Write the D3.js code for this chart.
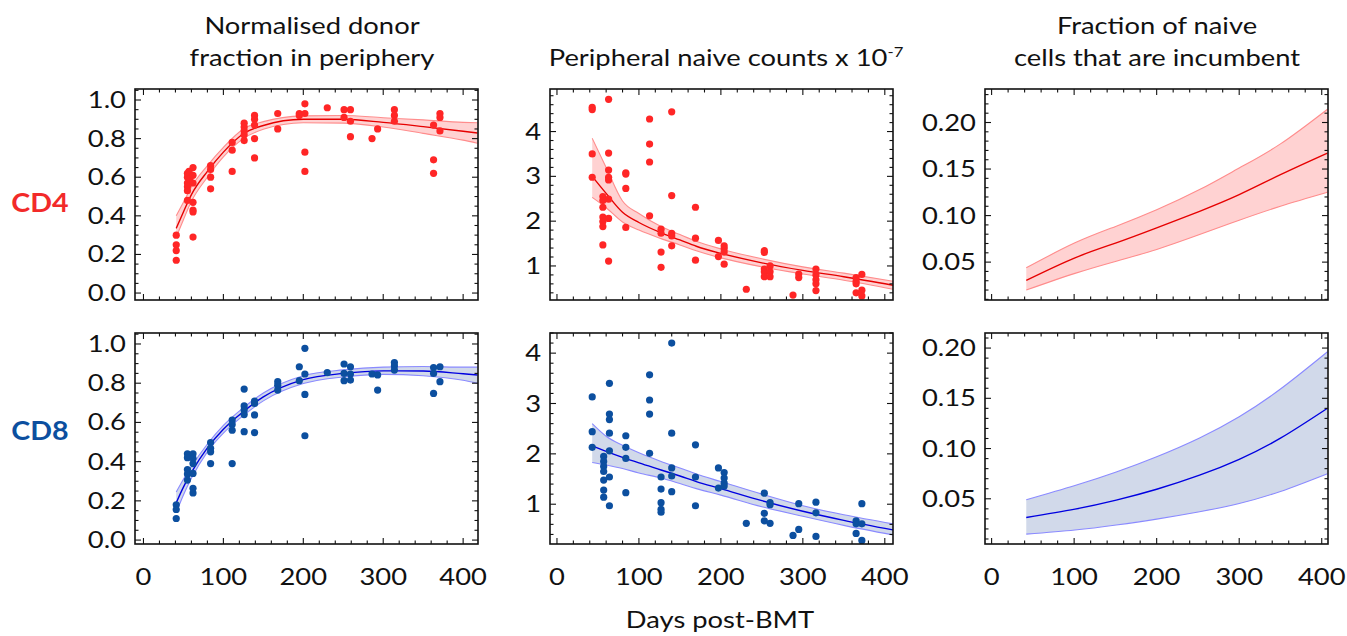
<!DOCTYPE html>
<html lang="en">
<head>
<script src="https://d3js.org/d3.v7.min.js"></script>
<style>
body { margin: 0; background: #fff; }
text { font-family: Lato, "Open Sans", sans-serif; fill: #111; }
</style>
</head>
<body>
<svg width="1347" height="636"></svg>
<script>
// ---- data ----
// scatter points: [day, value]
var cd4Donor = [
 [41,0.30],[41,0.25],[41,0.22],[41,0.17],
 [55,0.62],[55,0.60],[55,0.57],[55,0.55],[55,0.53],[55,0.48],[57,0.63],[58,0.59],
 [62,0.65],[62,0.61],[62,0.57],[62,0.47],[62,0.43],[62,0.42],[62,0.29],
 [84,0.66],[84,0.64],[84,0.60],[84,0.54],
 [111,0.78],[111,0.74],[111,0.63],
 [126,0.88],[126,0.86],[126,0.84],[126,0.82],[126,0.79],
 [139,0.92],[139,0.90],[139,0.87],[139,0.80],[139,0.70],
 [168,0.93],[168,0.85],
 [195,0.93],[195,0.92],
 [202,0.98],[202,0.93],[202,0.73],[202,0.63],
 [230,0.96],
 [251,0.95],[251,0.91],
 [259,0.95],[259,0.89],[259,0.81],
 [286,0.80],[293,0.85],
 [314,0.95],[314,0.92],[314,0.89],
 [363,0.87],[363,0.69],[363,0.62],
 [371,0.93],[371,0.91],[371,0.84]
];
var cd4Counts = [
 [43,4.54],[43,4.49],[43,3.50],[43,2.98],
 [56,2.55],[56,2.46],[56,2.31],[56,2.09],[56,1.99],[56,1.88],[56,1.47],
 [63,4.72],[63,3.52],[63,3.14],[63,2.98],[63,2.92],[63,2.49],[63,2.06],[63,1.11],
 [84,3.08],[84,3.05],[84,2.73],[84,1.86],
 [113,4.28],[113,3.72],[113,3.32],[113,2.12],
 [127,1.82],[127,1.73],[127,1.31],[127,0.97],
 [140,4.44],[140,2.57],[140,1.73],[140,1.67],[140,1.45],
 [169,2.31],[169,1.62],[169,1.13],
 [197,1.57],[197,1.21],
 [204,1.45],[204,1.39],[204,1.31],[204,1.04],
 [231,0.48],
 [253,1.34],[253,1.30],[253,0.93],[253,0.87],[253,0.76],
 [260,1.00],[260,0.87],[260,0.76],
 [288,0.35],[295,0.82],[295,0.74],
 [316,0.93],[316,0.80],[316,0.69],[316,0.60],[316,0.45],
 [365,0.74],[365,0.66],[365,0.60],[365,0.40],
 [372,0.81],[372,0.46],[372,0.33]
];
var cd8Donor = [
 [41,0.18],[41,0.156],[41,0.11],
 [55,0.44],[55,0.42],[55,0.36],[55,0.337],[55,0.306],
 [62,0.44],[62,0.417],[62,0.39],[62,0.34],[62,0.264],[62,0.24],
 [84,0.497],[84,0.468],[84,0.45],[84,0.39],
 [111,0.612],[111,0.59],[111,0.56],[111,0.39],
 [126,0.77],[126,0.684],[126,0.663],[126,0.64],[126,0.553],
 [139,0.709],[139,0.697],[139,0.638],[139,0.548],
 [168,0.808],[168,0.79],[168,0.765],
 [195,0.884],[195,0.813],
 [202,0.978],[202,0.847],[202,0.743],[202,0.532],
 [230,0.854],
 [251,0.898],[251,0.85],[251,0.813],
 [259,0.884],[259,0.847],[259,0.816],
 [286,0.847],[293,0.842],[293,0.765],
 [314,0.905],[314,0.888],[314,0.867],
 [363,0.88],[363,0.85],[363,0.748],
 [371,0.884],[371,0.808]
];
var cd8Counts = [
 [43,3.13],[43,2.44],[43,2.13],
 [57,1.95],[57,1.85],[57,1.75],[57,1.65],[57,1.48],[57,1.28],[57,1.14],
 [64,3.40],[64,2.79],[64,2.68],[64,2.41],[64,2.06],[64,1.54],[64,0.97],
 [84,2.36],[84,2.13],[84,1.91],[84,1.23],
 [113,3.57],[113,3.07],[113,2.79],[113,2.01],
 [127,1.54],[127,1.30],[127,1.03],[127,0.90],[127,0.84],
 [140,4.20],[140,2.41],[140,1.72],[140,1.56],[140,1.25],
 [169,2.18],[169,1.54],[169,0.97],
 [197,1.72],[197,1.32],
 [204,1.63],[204,1.52],[204,1.42],[204,1.36],
 [231,0.62],
 [253,1.22],[253,0.82],[253,0.67],
 [260,1.03],[260,0.99],[260,0.62],
 [288,0.38],[295,1.01],[295,0.50],
 [316,1.04],[316,0.83],[316,0.36],
 [365,0.67],[365,0.61],[365,0.42],
 [372,1.01],[372,0.61],[372,0.28]
];

// fitted curves and 95% bands
var donorDays = [41, 50, 60, 80, 100, 125, 150, 200, 250, 300, 350, 400, 418];
var cd4DonorFit = [0.335, 0.42, 0.51, 0.63, 0.73, 0.825, 0.868, 0.90, 0.90, 0.884, 0.862, 0.838, 0.829];
var cd4DonorHi  = [0.40, 0.47, 0.55, 0.66, 0.755, 0.85, 0.888, 0.918, 0.92, 0.908, 0.897, 0.884, 0.882];
var cd4DonorLo  = [0.29, 0.38, 0.475, 0.60, 0.705, 0.80, 0.848, 0.882, 0.88, 0.86, 0.827, 0.792, 0.776];
var cd8DonorFit = [0.19, 0.27, 0.345, 0.47, 0.565, 0.655, 0.73, 0.818, 0.85, 0.863, 0.862, 0.848, 0.842];
var cd8DonorHi  = [0.245, 0.31, 0.375, 0.49, 0.585, 0.675, 0.75, 0.838, 0.868, 0.882, 0.885, 0.882, 0.882];
var cd8DonorLo  = [0.14, 0.23, 0.315, 0.45, 0.545, 0.635, 0.71, 0.798, 0.832, 0.845, 0.838, 0.815, 0.80];

var countDays = [43, 60, 80, 100, 127, 150, 170, 200, 250, 300, 350, 410];
var cd4CountFit = [3.0, 2.62, 2.2, 1.97, 1.74, 1.58, 1.44, 1.28, 1.07, 0.90, 0.76, 0.57];
var cd4CountHi  = [3.85, 3.2, 2.45, 2.17, 1.88, 1.70, 1.55, 1.38, 1.16, 0.98, 0.84, 0.66];
var cd4CountLo  = [2.53, 2.3, 1.98, 1.80, 1.61, 1.47, 1.34, 1.18, 0.98, 0.82, 0.68, 0.48];
var cd8CountFit = [2.16, 2.05, 1.93, 1.82, 1.68, 1.56, 1.45, 1.31, 1.07, 0.86, 0.68, 0.49];
var cd8CountHi  = [2.6, 2.35, 2.17, 2.02, 1.85, 1.72, 1.60, 1.45, 1.2, 0.97, 0.79, 0.61];
var cd8CountLo  = [1.83, 1.78, 1.71, 1.62, 1.52, 1.41, 1.31, 1.18, 0.95, 0.76, 0.58, 0.39];

var incDays = [42, 101, 151, 200, 252, 300, 350, 407];
var cd4IncFit = [0.0304, 0.0546, 0.0707, 0.0868, 0.1046, 0.1225, 0.1439, 0.1671];
var cd4IncHi  = [0.0439, 0.0707, 0.0886, 0.1062, 0.1279, 0.1511, 0.177, 0.2143];
var cd4IncLo  = [0.020, 0.0379, 0.051, 0.0636, 0.0796, 0.0950, 0.110, 0.125];
var cd8IncFit = [0.0314, 0.0397, 0.0487, 0.0595, 0.0735, 0.0893, 0.1103, 0.1401];
var cd8IncHi  = [0.049, 0.0632, 0.0767, 0.0919, 0.1106, 0.1317, 0.1592, 0.1963];
var cd8IncLo  = [0.0148, 0.0189, 0.0239, 0.0298, 0.0371, 0.0453, 0.0573, 0.0750];

var xTicks = [0, 100, 200, 300, 400];
var fracTicks = [0.0, 0.2, 0.4, 0.6, 0.8, 1.0];
var countTicks = [1, 2, 3, 4];
var incTicks = [0.05, 0.10, 0.15, 0.20];

// ---- layout ----
var svg = d3.select("svg");
var colLeft = [135, 550, 985];
var rowTop = [89, 333];
var pw = 343, ph = 211;
var SX = 1.19; // reference text is drawn a little wide

var red = {pt: "#ff2626", line: "#e60000", edge: "#ff8c8c", fill: "#ffd2d2"};
var blue = {pt: "#0c4f9f", line: "#0000e0", edge: "#8a8aff", fill: "#d1d9ea"};

function label(x, y, str, size, anchor, sx) {
 return svg.append("text")
  .attr("transform", "translate(" + x + "," + y + ") scale(" + (sx || SX) + ",1)")
  .attr("text-anchor", anchor || "middle")
  .attr("font-size", size + "px")
  .text(str);
}

var panels = [
 {c:0, r:0, pts:cd4Donor, days:donorDays, fit:cd4DonorFit, hi:cd4DonorHi, lo:cd4DonorLo, xd:[-10.6, 418.6], yd:[-0.036, 1.057], yt:fracTicks, ym:0.05, fmt:d3.format(".1f"), col:red},
 {c:1, r:0, pts:cd4Counts, days:countDays, fit:cd4CountFit, hi:cd4CountHi, lo:cd4CountLo, xd:[-8.5, 410], yd:[0.24, 4.95], yt:countTicks, ym:0.2, fmt:d3.format("d"), col:red},
 {c:2, r:0, pts:null, days:incDays, fit:cd4IncFit, hi:cd4IncHi, lo:cd4IncLo, xd:[-8, 407.6], yd:[0.0093, 0.236], yt:incTicks, ym:0.01, fmt:d3.format(".2f"), col:red},
 {c:0, r:1, pts:cd8Donor, days:donorDays, fit:cd8DonorFit, hi:cd8DonorHi, lo:cd8DonorLo, xd:[-10.6, 418.6], yd:[-0.02, 1.056], yt:fracTicks, ym:0.05, fmt:d3.format(".1f"), col:blue},
 {c:1, r:1, pts:cd8Counts, days:countDays, fit:cd8CountFit, hi:cd8CountHi, lo:cd8CountLo, xd:[-8.5, 410], yd:[0.21, 4.40], yt:countTicks, ym:0.2, fmt:d3.format("d"), col:blue},
 {c:2, r:1, pts:null, days:incDays, fit:cd8IncFit, hi:cd8IncHi, lo:cd8IncLo, xd:[-8, 407.6], yd:[0.005, 0.215], yt:incTicks, ym:0.01, fmt:d3.format(".2f"), col:blue}
];

panels.forEach(function(p) {
 var x0 = colLeft[p.c], y0 = rowTop[p.r];
 var x = d3.scaleLinear().domain(p.xd).range([x0, x0 + pw]);
 var y = d3.scaleLinear().domain(p.yd).range([y0 + ph, y0]);
 var g = svg.append("g");

 var band = p.days.map(function(d, i) { return {d: d, f: p.fit[i], hi: p.hi[i], lo: p.lo[i]}; });
 var curve = p.c === 2 ? d3.curveNatural : d3.curveMonotoneX;

 g.append("path").datum(band)
  .attr("d", d3.area().curve(curve).x(function(d) { return x(d.d); })
   .y0(function(d) { return y(d.lo); }).y1(function(d) { return y(d.hi); }))
  .attr("fill", p.col.fill);
 ["hi", "lo"].forEach(function(k) {
  g.append("path").datum(band)
   .attr("d", d3.line().curve(curve).x(function(d) { return x(d.d); }).y(function(d) { return y(d[k]); }))
   .attr("fill", "none").attr("stroke", p.col.edge).attr("stroke-width", 1.1);
 });
 g.append("path").datum(band)
  .attr("d", d3.line().curve(curve).x(function(d) { return x(d.d); }).y(function(d) { return y(d.f); }))
  .attr("fill", "none").attr("stroke", p.col.line).attr("stroke-width", 1.4);

 if (p.pts) {
  g.selectAll("circle").data(p.pts).enter().append("circle")
   .attr("cx", function(d) { return x(d[0]); })
   .attr("cy", function(d) { return y(d[1]); })
   .attr("r", 3.6)
   .attr("fill", p.col.pt);
 }

 // frame
 g.append("rect").attr("x", x0).attr("y", y0).attr("width", pw).attr("height", ph)
  .attr("fill", "none").attr("stroke", "#111").attr("stroke-width", 1.6);

 // ticks on all four sides, pointing inward
 var xMinor = d3.range(0, 420, 20).filter(function(v) { return v >= p.xd[0] && v <= p.xd[1]; });
 xMinor.forEach(function(v) {
  var len = (v % 100 === 0) ? 6 : 3.5;
  g.append("line").attr("x1", x(v)).attr("x2", x(v)).attr("y1", y0 + ph).attr("y2", y0 + ph - len).attr("stroke", "#111").attr("stroke-width", 1.1);
  g.append("line").attr("x1", x(v)).attr("x2", x(v)).attr("y1", y0).attr("y2", y0 + len).attr("stroke", "#111").attr("stroke-width", 1.1);
 });
 var nMin = Math.ceil(p.yd[0] / p.ym - 1e-6), nMax = Math.floor(p.yd[1] / p.ym + 1e-6);
 d3.range(nMin, nMax + 1).forEach(function(n) {
  var v = n * p.ym;
  var major = p.yt.some(function(t) { return Math.abs(t - v) < p.ym / 10; });
  var len = major ? 6 : 3.5;
  g.append("line").attr("x1", x0).attr("x2", x0 + len).attr("y1", y(v)).attr("y2", y(v)).attr("stroke", "#111").attr("stroke-width", 1.1);
  g.append("line").attr("x1", x0 + pw).attr("x2", x0 + pw - len).attr("y1", y(v)).attr("y2", y(v)).attr("stroke", "#111").attr("stroke-width", 1.1);
 });

 // tick labels
 p.yt.forEach(function(t) {
  label(x0 - 9, y(t) + 8, p.fmt(t), 23, "end");
 });
 if (p.r === 1) {
  xTicks.forEach(function(t) {
   label(x(t), 585, t, 23, "middle");
  });
 }
});

// titles
label(312, 34, "Normalised donor", 23);
label(312, 66, "fraction in periphery", 23);
label(1157, 34, "Fraction of naive", 23);
label(1157, 66, "cells that are incumbent", 23);
var t2 = label(726, 66, "", 23);
t2.append("tspan").text("Peripheral naive counts x 10");
t2.append("tspan").attr("dy", "-9").attr("font-size", "14px").text("-7");

label(40, 212, "CD4", 26, "middle", 1.1).attr("font-weight", "bold").style("fill", "#f22a2a");
label(40, 440, "CD8", 26, "middle", 1.1).attr("font-weight", "bold").style("fill", "#0c4f9f");

label(720, 628, "Days post-BMT", 23);
</script>
</body>
</html>
